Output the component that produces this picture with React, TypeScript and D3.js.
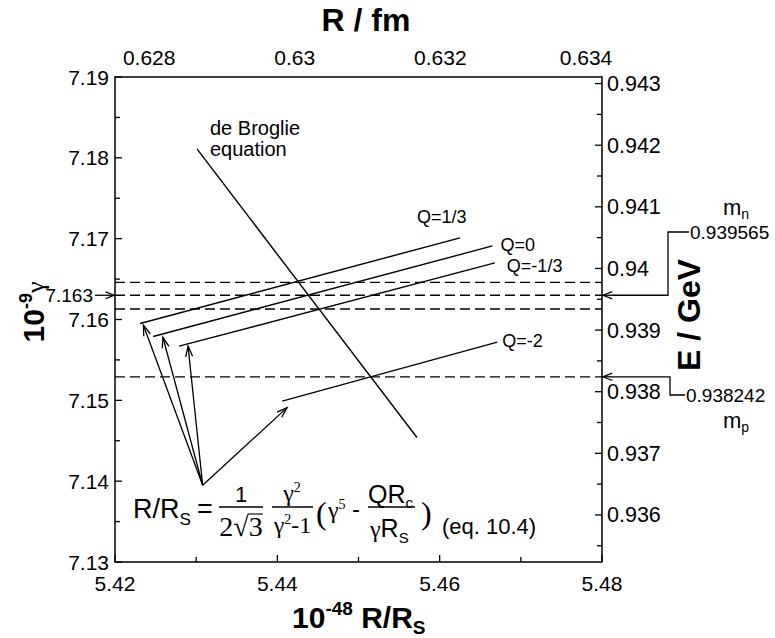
import React from "react";
import * as d3 from "d3";

const W = 775;
const H = 638;
const FRAME = { left: 115, right: 602, top: 77, bottom: 562 };

// axis domains / ticks
const xDomain: [number, number] = [5.42, 5.48];
const yDomain: [number, number] = [7.13, 7.19];
const topDomain: [number, number] = [0.62753, 0.63422];
const xMajorTicks = [5.42, 5.44, 5.46, 5.48];
const xMinorTicks = [5.43, 5.45, 5.47];
const yMajorTicks = [7.13, 7.14, 7.15, 7.16, 7.17, 7.18, 7.19];
const yMinorTicks = [7.135, 7.145, 7.155, 7.165, 7.175, 7.185];
const topTicks = [0.628, 0.63, 0.632, 0.634];
const topTickLabels = ["0.628", "0.63", "0.632", "0.634"];
const rightMajorTicks = [0.936, 0.937, 0.938, 0.939, 0.94, 0.941, 0.942, 0.943];
const rightTickLabels = ["0.936", "0.937", "0.938", "0.939", "0.94", "0.941", "0.942", "0.943"];
const rightMinorTicks = [0.9355, 0.9365, 0.9375, 0.9385, 0.9395, 0.9405, 0.9415, 0.9425];

// physical reference values
const massNeutron = 0.939565;
const massProton = 0.938242;
const gammaNeutron = 7.163;
const energyPerGamma = massNeutron / gammaNeutron; // GeV per 10^9 gamma

// de Broglie line
const deBroglieX = [5.4301, 5.4572];
const deBroglieY = [7.1811, 7.1454];

// eq. 10.4 lines for different Q
const qLabels = ["Q=1/3", "Q=0", "Q=-1/3", "Q=-2"];
const qStartX = [5.4231, 5.4247, 5.4279, 5.4406];
const qStartY = [7.1595, 7.1579, 7.1567, 7.1499];
const qEndX = [5.4625, 5.4665, 5.4668, 5.4671];
const qEndY = [7.1701, 7.1691, 7.167, 7.1572];
const qLabelDx = [-43, 8, 12, 5];
const qLabelDy = [-15, 5, 9, 5];

// horizontal dashed reference levels (10^-9 gamma)
const dashedGamma = [7.1646, 7.163, 7.1613, 7.1529];

// arrows from the equation to the curves
const arrowOriginX = 5.4308;
const arrowOriginY = 7.1395;
const arrowTargetX = [5.4235, 5.4259, 5.429, 5.4412];
const arrowTargetY = [7.1593, 7.1578, 7.1567, 7.1491];

const SANS = "'Liberation Sans', Arial, Helvetica, sans-serif";
const SERIF = "'Liberation Serif', 'Times New Roman', serif";

function Arrow({ x1, y1, x2, y2, head = 10, spread = 0.38, sw = 1.3 }: any) {
  const a = Math.atan2(y2 - y1, x2 - x1);
  const p1 = [x2 - head * Math.cos(a - spread), y2 - head * Math.sin(a - spread)];
  const p2 = [x2 - head * Math.cos(a + spread), y2 - head * Math.sin(a + spread)];
  return (
    <g stroke="#000" strokeWidth={sw} fill="none">
      <line x1={x1} y1={y1} x2={x2} y2={y2} />
      <polyline points={`${p1[0]},${p1[1]} ${x2},${y2} ${p2[0]},${p2[1]}`} />
    </g>
  );
}

export default function App() {
  const x = d3.scaleLinear().domain(xDomain).range([FRAME.left, FRAME.right]);
  const y = d3.scaleLinear().domain(yDomain).range([FRAME.bottom, FRAME.top]);
  const xTop = d3.scaleLinear().domain(topDomain).range([FRAME.left, FRAME.right]);
  const yRight = d3
    .scaleLinear()
    .domain([yDomain[0] * energyPerGamma, yDomain[1] * energyPerGamma])
    .range([FRAME.bottom, FRAME.top]);
  const line = d3
    .line<[number, number]>()
    .x((d) => x(d[0]))
    .y((d) => y(d[1]));

  const majorLen = 7;
  const minorLen = 5;
  const yN = yRight(massNeutron);
  const yP = yRight(massProton);

  return (
    <svg
      width={W}
      height={H}
      style={{ position: "absolute", left: 0, top: 0, background: "#fff" }}
      fontFamily={SANS}
    >
      <rect x={0} y={0} width={W} height={H} fill="#fff" />

      {/* dashed reference lines */}
      {dashedGamma.map((g, i) => (
        <line
          key={"d" + i}
          x1={FRAME.left}
          x2={FRAME.right}
          y1={y(g)}
          y2={y(g)}
          stroke="#000"
          strokeWidth={1.3}
          strokeDasharray="10,5"
        />
      ))}

      {/* frame */}
      <rect
        x={FRAME.left}
        y={FRAME.top}
        width={FRAME.right - FRAME.left}
        height={FRAME.bottom - FRAME.top}
        fill="none"
        stroke="#000"
        strokeWidth={1.5}
      />

      {/* bottom axis */}
      {xMajorTicks.map((t) => (
        <g key={"xb" + t}>
          <line x1={x(t)} x2={x(t)} y1={FRAME.bottom} y2={FRAME.bottom - majorLen} stroke="#000" strokeWidth={1.3} />
          <text x={x(t)} y={591} fontSize={21} textAnchor="middle">
            {t.toFixed(2)}
          </text>
        </g>
      ))}
      {xMinorTicks.map((t) => (
        <line key={"xm" + t} x1={x(t)} x2={x(t)} y1={FRAME.bottom} y2={FRAME.bottom - minorLen} stroke="#000" strokeWidth={1.3} />
      ))}

      {/* top axis labels (R / fm) */}
      {topTicks.map((t, i) => (
        <text key={"xt" + t} x={xTop(t)} y={65} fontSize={21} textAnchor="middle">
          {topTickLabels[i]}
        </text>
      ))}
      <text x={366} y={31} fontSize={32} fontWeight="bold" textAnchor="middle">
        R / fm
      </text>

      {/* left axis */}
      {yMajorTicks.map((t) => (
        <g key={"yl" + t}>
          <line x1={FRAME.left} x2={FRAME.left + majorLen} y1={y(t)} y2={y(t)} stroke="#000" strokeWidth={1.3} />
          <text x={109} y={y(t) + 7.5} fontSize={21} textAnchor="end">
            {t.toFixed(2)}
          </text>
        </g>
      ))}
      {yMinorTicks.map((t) => (
        <line key={"ym" + t} x1={FRAME.left} x2={FRAME.left + minorLen} y1={y(t)} y2={y(t)} stroke="#000" strokeWidth={1.3} />
      ))}
      <text x={93} y={y(gammaNeutron) + 7} fontSize={19} textAnchor="end">
        {gammaNeutron.toFixed(3)}
      </text>
      <Arrow x1={95} y1={y(gammaNeutron)} x2={FRAME.left - 1} y2={y(gammaNeutron)} head={9} />
      <text transform={`translate(44, 312) rotate(-90)`} textAnchor="middle">
        <tspan fontSize={30} fontWeight="bold">10</tspan>
        <tspan fontSize={18} fontWeight="bold" dy={-12}>-9</tspan>
        <tspan fontSize={26} fontFamily={SERIF} dy={12}>γ</tspan>
      </text>

      {/* right axis */}
      {rightMajorTicks.map((t, i) => (
        <g key={"yr" + t}>
          <line x1={FRAME.right} x2={FRAME.right - majorLen} y1={yRight(t)} y2={yRight(t)} stroke="#000" strokeWidth={1.3} />
          <text x={607} y={yRight(t) + 7.5} fontSize={21.5}>
            {rightTickLabels[i]}
          </text>
        </g>
      ))}
      {rightMinorTicks.map((t) => (
        <line key={"yrm" + t} x1={FRAME.right} x2={FRAME.right - minorLen} y1={yRight(t)} y2={yRight(t)} stroke="#000" strokeWidth={1.3} />
      ))}
      <text transform={`translate(700, 315) rotate(-90)`} fontSize={32} fontWeight="bold" textAnchor="middle">
        E / GeV
      </text>

      {/* neutron / proton mass markers */}
      <polyline
        points={`689,232 668,232 668,${yN} ${FRAME.right + 10},${yN}`}
        fill="none"
        stroke="#000"
        strokeWidth={1.3}
      />
      <Arrow x1={FRAME.right + 10} y1={yN} x2={FRAME.right + 1} y2={yN} head={10} />
      <text x={690} y={239} fontSize={19}>
        {massNeutron.toFixed(6)}
      </text>
      <text x={723} y={215} fontSize={22}>
        m<tspan fontSize={14} dy={4}>n</tspan>
      </text>
      <polyline
        points={`685,395 670,395 670,${yP} ${FRAME.right + 10},${yP}`}
        fill="none"
        stroke="#000"
        strokeWidth={1.3}
      />
      <Arrow x1={FRAME.right + 10} y1={yP} x2={FRAME.right + 1} y2={yP} head={10} />
      <text x={686} y={402} fontSize={19}>
        {massProton.toFixed(6)}
      </text>
      <text x={723} y={428} fontSize={22}>
        m<tspan fontSize={14} dy={4}>p</tspan>
      </text>

      {/* de Broglie line */}
      <path
        d={line([
          [deBroglieX[0], deBroglieY[0]],
          [deBroglieX[1], deBroglieY[1]],
        ]) as string}
        stroke="#000"
        strokeWidth={1.4}
        fill="none"
      />
      <text x={210} y={135} fontSize={20}>
        de Broglie
      </text>
      <text x={210} y={156} fontSize={20}>
        equation
      </text>

      {/* Q lines */}
      {qLabels.map((lab, i) => (
        <g key={"q" + i}>
          <path
            d={line([
              [qStartX[i], qStartY[i]],
              [qEndX[i], qEndY[i]],
            ]) as string}
            stroke="#000"
            strokeWidth={1.4}
            fill="none"
          />
          <text x={x(qEndX[i]) + qLabelDx[i]} y={y(qEndY[i]) + qLabelDy[i]} fontSize={18}>
            {lab}
          </text>
        </g>
      ))}

      {/* arrows from equation */}
      {arrowTargetX.map((tx, i) => (
        <Arrow
          key={"a" + i}
          x1={x(arrowOriginX)}
          y1={y(arrowOriginY)}
          x2={x(tx)}
          y2={y(arrowTargetY[i])}
          head={11}
          spread={0.32}
        />
      ))}

      {/* equation 10.4 */}
      <g>
        <text x={133} y={518} fontSize={27}>
          R/R<tspan fontSize={17} dy={7}>S</tspan>
        </text>
        <text x={197} y={518} fontSize={27}>=</text>
        <text x={241} y={502} fontSize={22} textAnchor="middle">1</text>
        <line x1={219} x2={263} y1={507} y2={507} stroke="#000" strokeWidth={1.3} />
        <text x={241} y={536} fontSize={28} fontFamily={SERIF} textAnchor="middle">2√3</text>
        <line x1={248} x2={263} y1={514} y2={514} stroke="#000" strokeWidth={1.1} />
        <text x={292} y={501} fontSize={24} fontFamily={SERIF} textAnchor="middle">
          γ<tspan fontSize={14} dy={-9}>2</tspan>
        </text>
        <line x1={272} x2={313} y1={507} y2={507} stroke="#000" strokeWidth={1.3} />
        <text x={292.5} y={533} fontSize={24} fontFamily={SERIF} textAnchor="middle">
          γ<tspan fontSize={14} dy={-9}>2</tspan>
          <tspan dy={9}>-1</tspan>
        </text>
        <text x={316} y={524} fontSize={32} fontFamily={SERIF}>(</text>
        <text x={328} y={518} fontSize={24} fontFamily={SERIF}>
          γ<tspan fontSize={14} dy={-9}>5</tspan>
        </text>
        <text x={352} y={517} fontSize={24}>-</text>
        <text x={368} y={503} fontSize={25}>
          QR<tspan fontSize={15} dy={5}>c</tspan>
        </text>
        <line x1={368} x2={415} y1={507} y2={507} stroke="#000" strokeWidth={1.3} />
        <text x={370} y={537} fontSize={25}>
          <tspan fontFamily={SERIF} fontSize={24}>γ</tspan>R<tspan fontSize={15} dy={6}>S</tspan>
        </text>
        <text x={421} y={524} fontSize={32} fontFamily={SERIF}>)</text>
        <text x={442} y={534} fontSize={22}>(eq. 10.4)</text>
      </g>

      {/* x title */}
      <text x={292} y={628} fontWeight="bold">
        <tspan fontSize={30}>10</tspan>
        <tspan fontSize={19} dy={-13}>-48</tspan>
        <tspan fontSize={30} dy={13}> R/R</tspan>
        <tspan fontSize={19} dy={6}>S</tspan>
      </text>
    </svg>
  );
}
